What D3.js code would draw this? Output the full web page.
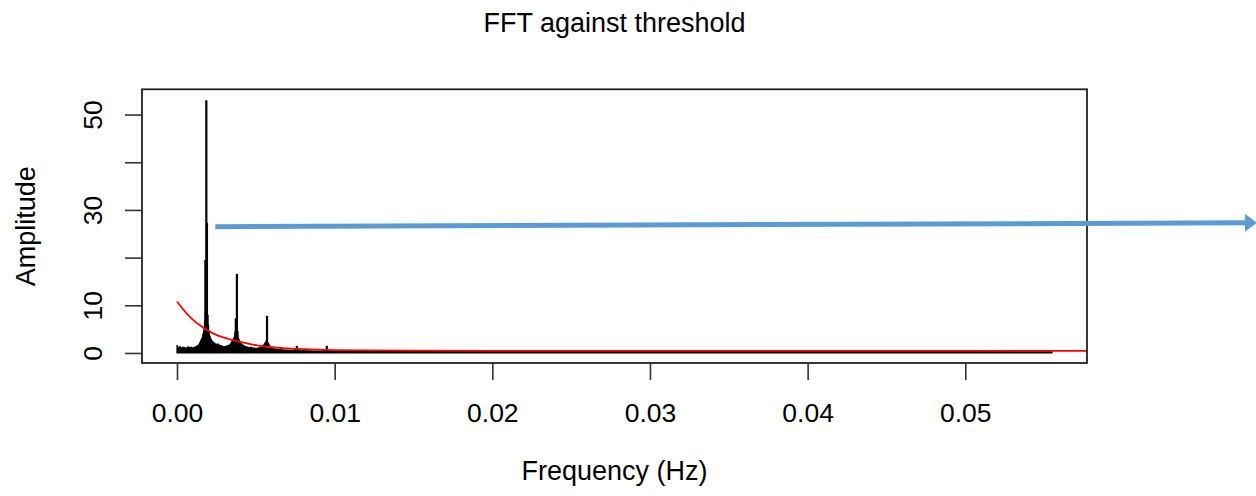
<!DOCTYPE html>
<html><head><meta charset="utf-8">
<script src="https://cdn.jsdelivr.net/npm/d3@7"></script>
<style>
body{margin:0;background:#fff}
svg{display:block}
text{font-family:"Liberation Sans",Arial,sans-serif;fill:#000}
</style>
</head><body>
<svg id="c" width="1256" height="496"></svg>
<script>
const chartTitle = "FFT against threshold";
const xTitle = "Frequency (Hz)";
const yTitle = "Amplitude";
const xTicks = [0, 0.01, 0.02, 0.03, 0.04, 0.05];
const xTickLabels = ["0.00", "0.01", "0.02", "0.03", "0.04", "0.05"];
const yTicks = [0, 10, 20, 30, 40, 50];
const yTickLabels = ["0", "10", "", "30", "", "50"];

// noise floor of the spectrum
const floorFreq = [0, 0.00005, 0.0002, 0.0003, 0.0004, 0.0005, 0.0006, 0.0007, 0.0008, 0.0009, 0.001, 0.0011, 0.0012, 0.0013,
  0.0014, 0.0015, 0.0016, 0.0017, 0.00186, 0.002, 0.0021, 0.0022, 0.0023, 0.0024, 0.0025, 0.0026, 0.0027, 0.0028, 0.0029, 0.003,
  0.0031, 0.0032, 0.0033, 0.0034, 0.0035, 0.0036, 0.0038, 0.0039, 0.004, 0.0041, 0.0042, 0.0043, 0.0044, 0.0045, 0.0046, 0.0047,
  0.0048, 0.0049, 0.005, 0.0051, 0.0052, 0.0053, 0.0054, 0.0055, 0.0056, 0.0058, 0.0059, 0.006, 0.0061, 0.0062, 0.0064, 0.0066,
  0.0068, 0.007, 0.0072, 0.0074, 0.0076, 0.0078, 0.008, 0.0083, 0.0086, 0.009, 0.0093, 0.0095, 0.0097, 0.01, 0.011, 0.012,
  0.014, 0.016, 0.02, 0.025, 0.03, 0.035, 0.04, 0.045, 0.05, 0.0555];
const floorAmp = [1.7, 1.1, 1.3, 1.0, 1.2, 1.1, 1.0, 1.3, 1.1, 1.2, 1.0, 1.2, 1.3, 1.5,
  1.8, 2.5, 3.2, 4.5, 5.0, 4.5, 3.3, 2.6, 2.3, 2.0, 1.8, 1.9, 1.6, 1.5, 1.4, 1.3,
  1.4, 1.5, 1.6, 1.9, 2.5, 3.1, 4.0, 3.0, 2.3, 1.9, 1.6, 1.4, 1.3, 1.2, 1.1, 1.2,
  1.0, 1.0, 0.9, 1.0, 1.1, 1.2, 1.4, 1.7, 2.1, 2.0, 1.4, 1.1, 0.9, 0.8, 0.7, 0.7,
  0.6, 0.6, 0.55, 0.6, 0.8, 0.5, 0.45, 0.45, 0.4, 0.4, 0.45, 0.6, 0.4, 0.38, 0.35, 0.35,
  0.33, 0.33, 0.32, 0.3, 0.3, 0.3, 0.28, 0.28, 0.27, 0.25];

// narrow spectral peaks
const peakFreq = [0.0017, 0.00174, 0.00178, 0.0018, 0.00183, 0.00186, 0.0019, 0.00194, 0.00197, 0.002, 0.00204,
  0.00366, 0.0037, 0.00373, 0.00377, 0.0038, 0.00384, 0.00388,
  0.00563, 0.00567, 0.00571, 0.00575, 0.0076, 0.0095];
const peakAmp = [4.2, 5.5, 7.0, 19.5, 8.5, 53.0, 27.3, 8.0, 6.0, 4.8, 3.6,
  3.4, 4.5, 7.3, 7.0, 16.6, 4.6, 3.2,
  2.2, 2.6, 7.8, 2.3, 1.5, 1.5];

// threshold curve
const threshFreq = [0, 0.0005, 0.001, 0.0015, 0.002, 0.0025, 0.003, 0.0035, 0.004, 0.005, 0.006, 0.007, 0.008, 0.009,
  0.01, 0.012, 0.015, 0.02, 0.03, 0.04, 0.05, 0.0578];
const threshAmp = [10.8, 8.7, 7.0, 5.7, 4.6, 3.8, 3.2, 2.75, 2.35, 1.65, 1.2, 0.95, 0.8, 0.7,
  0.62, 0.53, 0.48, 0.46, 0.45, 0.45, 0.45, 0.45];

// annotation arrow (data coordinates)
const arrowFreq = [0.00243, 0.0685];
const arrowAmp = [26.5, 27.3];

const svg = d3.select("#c");
const L = 142, R = 1087, T = 89.3, B = 363;
const x = d3.scaleLinear().domain([-0.00222, 0.05772]).range([L, R]);
const y = d3.scaleLinear().domain([-2.1, 55.3]).range([B, T]);

svg.append("defs").append("clipPath").attr("id", "clip")
  .append("rect").attr("x", L).attr("y", T).attr("width", R - L).attr("height", B - T);

const plot = svg.append("g").attr("clip-path", "url(#clip)");

// noise floor
const floorData = floorFreq.map((f, i) => [f, floorAmp[i]]);
plot.append("path").datum(floorData)
  .attr("d", d3.area().x(d => x(d[0])).y0(y(0)).y1(d => y(d[1])))
  .attr("fill", "#000").attr("stroke", "#000").attr("stroke-width", 1.2);

// peaks
plot.selectAll("line.peak").data(peakFreq.map((f, i) => [f, peakAmp[i]]))
  .enter().append("line").attr("class", "peak")
  .attr("x1", d => x(d[0])).attr("x2", d => x(d[0]))
  .attr("y1", y(0)).attr("y2", d => y(d[1]))
  .attr("stroke", "#000").attr("stroke-width", 2.2);

// threshold
plot.append("path").datum(threshFreq.map((f, i) => [f, threshAmp[i]]))
  .attr("d", d3.line().x(d => x(d[0])).y(d => y(d[1])).curve(d3.curveMonotoneX))
  .attr("fill", "none").attr("stroke", "#ff0000").attr("stroke-width", 1.8);

// box
svg.append("rect").attr("x", L).attr("y", T).attr("width", R - L).attr("height", B - T)
  .attr("fill", "none").attr("stroke", "#222").attr("stroke-width", 1.8);

// x axis
const gx = svg.append("g").attr("transform", `translate(0,${B})`)
  .call(d3.axisBottom(x).tickValues(xTicks).tickFormat((d, i) => xTickLabels[i]).tickSize(17).tickPadding(23));
gx.select(".domain").remove();
gx.selectAll(".tick line").attr("stroke", "#333").attr("stroke-width", 1.6);
gx.selectAll(".tick text").style("font-size", "26.5px").style("font-family", '"Liberation Sans",Arial,sans-serif').attr("fill", "#000");

// y axis
const gy = svg.append("g").attr("transform", `translate(${L},0)`)
  .call(d3.axisLeft(y).tickValues(yTicks).tickFormat((d, i) => yTickLabels[i]).tickSize(17));
gy.select(".domain").remove();
gy.selectAll(".tick line").attr("stroke", "#333").attr("stroke-width", 1.6);
gy.selectAll(".tick text")
  .attr("x", null).attr("dy", null)
  .attr("text-anchor", "middle")
  .attr("transform", `translate(${101.5 - L},0) rotate(-90)`)
  .style("font-size", "26.5px").style("font-family", '"Liberation Sans",Arial,sans-serif').attr("fill", "#000");

// titles
svg.append("text").attr("x", (L + R) / 2).attr("y", 32.3).attr("text-anchor", "middle")
  .style("font-size", "27px").text(chartTitle);
svg.append("text").attr("x", (L + R) / 2).attr("y", 479.5).attr("text-anchor", "middle")
  .style("font-size", "27px").text(xTitle);
svg.append("text").attr("transform", `translate(35,${(T + B) / 2}) rotate(-90)`).attr("text-anchor", "middle")
  .style("font-size", "27px").text(yTitle);

// annotation arrow
const ax0 = x(arrowFreq[0]), ay0 = y(arrowAmp[0]), ax1 = x(arrowFreq[1]), ay1 = y(arrowAmp[1]);
const ang = Math.atan2(ay1 - ay0, ax1 - ax0);
const headLen = 12, headHalf = 9;
const bx = ax1 - headLen * Math.cos(ang), by = ay1 - headLen * Math.sin(ang);
svg.append("line").attr("x1", ax0).attr("y1", ay0).attr("x2", bx).attr("y2", by)
  .attr("stroke", "#5b9bd5").attr("stroke-width", 5);
svg.append("polygon")
  .attr("points", [[ax1, ay1],
    [bx - headHalf * Math.sin(ang), by + headHalf * Math.cos(ang)],
    [bx + headHalf * Math.sin(ang), by - headHalf * Math.cos(ang)]].map(p => p.join(",")).join(" "))
  .attr("fill", "#5b9bd5");
</script>
</body></html>
